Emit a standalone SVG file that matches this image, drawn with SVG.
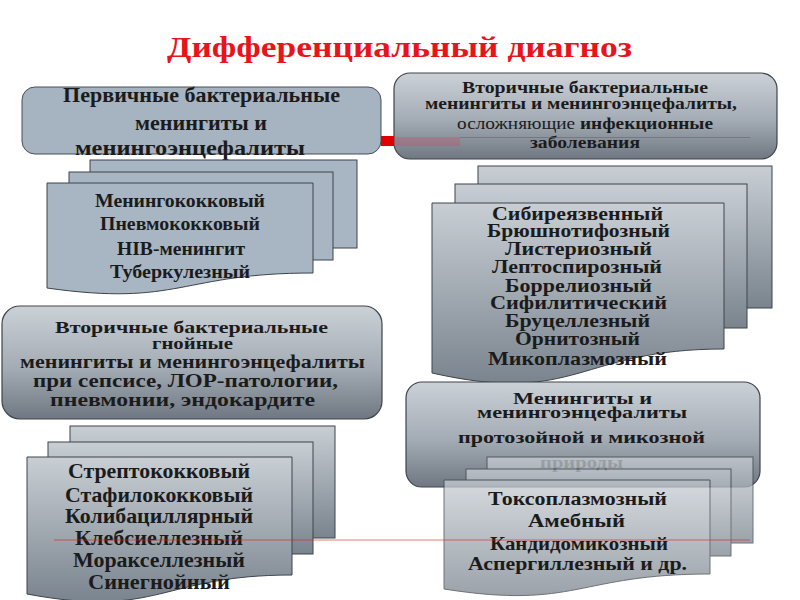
<svg xmlns="http://www.w3.org/2000/svg" width="800" height="600" viewBox="0 0 800 600">
<defs>
<linearGradient id="gBox" x1="0" y1="0" x2="0" y2="1">
<stop offset="0" stop-color="#cbd1d7"/>
<stop offset="0.55" stop-color="#a3abb4"/>
<stop offset="1" stop-color="#6f7882"/>
</linearGradient>
<linearGradient id="gDoc" x1="0" y1="0" x2="0" y2="1">
<stop offset="0" stop-color="#c8ced4"/>
<stop offset="1" stop-color="#7a848e"/>
</linearGradient>
<style>
.t{font-family:"Liberation Serif","DejaVu Serif","Times New Roman",serif;font-weight:bold;fill:#1b1b1b}
.flat{fill:#a6b3c1;stroke:#4a4f55;stroke-width:1}
.grad{fill:url(#gBox);stroke:#3f444a;stroke-width:1.2}
.doc{fill:url(#gDoc);stroke:#3f444a;stroke-width:1}
.dflat{fill:#a8b5c3;stroke:#3f444a;stroke-width:1}
</style>
</defs>
<rect width="800" height="600" fill="#ffffff"/>
<text id="title" x="167" y="57" textLength="465" lengthAdjust="spacingAndGlyphs" style="font-family:'Liberation Serif','DejaVu Serif','Times New Roman',serif;font-weight:bold;font-size:30px;fill:#e8141b">Дифференциальный диагноз</text>

<g id="primary">
<rect class="flat" x="22" y="87" width="359" height="67" rx="13"/>
<text class="t" font-size="21" x="63" y="102" textLength="277" lengthAdjust="spacingAndGlyphs">Первичные бактериальные</text>
<text class="t" font-size="21" x="135" y="130" textLength="132" lengthAdjust="spacingAndGlyphs">менингиты и</text>
<text class="t" font-size="21" x="75" y="155" textLength="230" lengthAdjust="spacingAndGlyphs">менингоэнцефалиты</text>
</g>

<g id="primary-list">
<rect class="dflat" x="90" y="160" width="267" height="88"/>
<rect class="dflat" x="69" y="172" width="264" height="88"/>
<path class="dflat" fill="#a4b1bf" d="M47,183 H313 V273 C180,273 180,307 47,288 Z"/>
<text class="t" font-size="18" x="95" y="207" textLength="170" lengthAdjust="spacingAndGlyphs">Менингококковый</text>
<text class="t" font-size="18" x="100" y="230" textLength="160" lengthAdjust="spacingAndGlyphs">Пневмококковый</text>
<text class="t" font-size="18" x="117" y="255" textLength="128" lengthAdjust="spacingAndGlyphs">HIB-менингит</text>
<text class="t" font-size="18" x="110" y="278" textLength="140" lengthAdjust="spacingAndGlyphs">Туберкулезный</text>
</g>

<g id="secondary-complicating">
<rect class="grad" x="394" y="73" width="383" height="86" rx="16"/>
<text class="t" font-size="16" x="462" y="93" textLength="246" lengthAdjust="spacingAndGlyphs">Вторичные бактериальные</text>
<text class="t" font-size="16" x="425" y="109" textLength="312" lengthAdjust="spacingAndGlyphs">менингиты и менингоэнцефалиты,</text>
<text class="t" font-size="16" x="457" y="129" textLength="256" lengthAdjust="spacingAndGlyphs"><tspan font-weight="normal">осложняющие</tspan> инфекционные</text>
<text class="t" font-size="16" x="530" y="148" textLength="110" lengthAdjust="spacingAndGlyphs">заболевания</text>
</g>

<g id="secondary-list">
<rect class="doc" x="478" y="166" width="294" height="142"/>
<rect class="doc" x="455" y="184" width="292" height="144"/>
<path class="doc" d="M432,203 H724 V349 C578,349 578,406 432,373 Z"/>
<text class="t" font-size="19" x="492" y="220" textLength="171" lengthAdjust="spacingAndGlyphs">Сибиреязвенный</text>
<text class="t" font-size="19" x="487" y="237" textLength="183" lengthAdjust="spacingAndGlyphs">Брюшнотифозный</text>
<text class="t" font-size="19" x="505" y="255" textLength="147" lengthAdjust="spacingAndGlyphs">Листериозный</text>
<text class="t" font-size="19" x="492" y="273" textLength="170" lengthAdjust="spacingAndGlyphs">Лептоспирозный</text>
<text class="t" font-size="19" x="505" y="292" textLength="147" lengthAdjust="spacingAndGlyphs">Боррелиозный</text>
<text class="t" font-size="19" x="490" y="309" textLength="177" lengthAdjust="spacingAndGlyphs">Сифилитический</text>
<text class="t" font-size="19" x="505" y="327" textLength="145" lengthAdjust="spacingAndGlyphs">Бруцеллезный</text>
<text class="t" font-size="19" x="515" y="345" textLength="125" lengthAdjust="spacingAndGlyphs">Орнитозный</text>
<text class="t" font-size="19" x="488" y="365" textLength="179" lengthAdjust="spacingAndGlyphs">Микоплазмозный</text>
</g>

<g id="secondary-purulent">
<rect class="grad" x="2" y="306" width="380" height="113" rx="18"/>
<text class="t" font-size="17" x="55" y="333" textLength="273" lengthAdjust="spacingAndGlyphs">Вторичные бактериальные</text>
<text class="t" font-size="17" x="152" y="349" textLength="81" lengthAdjust="spacingAndGlyphs">гнойные</text>
<text class="t" font-size="18" x="20" y="368" textLength="345" lengthAdjust="spacingAndGlyphs">менингиты и менингоэнцефалиты</text>
<text class="t" font-size="18" x="33" y="387" textLength="305" lengthAdjust="spacingAndGlyphs">при сепсисе, ЛОР-патологии,</text>
<text class="t" font-size="18" x="50" y="406" textLength="265" lengthAdjust="spacingAndGlyphs">пневмонии, эндокардите</text>
</g>

<g id="purulent-list">
<rect class="doc" x="70" y="426" width="265" height="112"/>
<rect class="doc" x="48" y="442" width="265" height="112"/>
<path class="doc" d="M27,457 H292 V575 C160,575 160,619 27,594 Z"/>
<text class="t" font-size="20" x="68" y="478" textLength="182" lengthAdjust="spacingAndGlyphs">Стрептококковый</text>
<text class="t" font-size="20" x="65" y="502" textLength="188" lengthAdjust="spacingAndGlyphs">Стафилококковый</text>
<text class="t" font-size="20" x="65" y="523" textLength="188" lengthAdjust="spacingAndGlyphs">Колибациллярный</text>
<text class="t" font-size="20" x="75" y="545" textLength="168" lengthAdjust="spacingAndGlyphs">Клебсиеллезный</text>
<text class="t" font-size="20" x="73" y="567" textLength="172" lengthAdjust="spacingAndGlyphs">Моракселлезный</text>
<text class="t" font-size="20" x="88" y="589" textLength="142" lengthAdjust="spacingAndGlyphs">Синегнойный</text>
</g>

<g id="protozoal">
<rect class="grad" x="406" y="382" width="354" height="105" rx="16"/>
<text class="t" font-size="16" x="513" y="404" textLength="139" lengthAdjust="spacingAndGlyphs">Менингиты и</text>
<text class="t" font-size="16" x="477" y="418" textLength="210" lengthAdjust="spacingAndGlyphs">менингоэнцефалиты</text>
<text class="t" font-size="17" x="458" y="443" textLength="247" lengthAdjust="spacingAndGlyphs">протозойной и микозной</text>
<text class="t" font-size="17" x="540" y="468" textLength="83" lengthAdjust="spacingAndGlyphs">природы</text>
</g>

<g id="protozoal-list">
<g opacity="0.75">
<rect class="doc" x="487" y="457" width="266" height="86"/>
<rect class="doc" x="466" y="469" width="265" height="87"/>
<path class="doc" d="M444,480 H710 V574 C577,574 577,610 444,589 Z"/>
</g>
<text class="t" font-size="18" x="488" y="505" textLength="179" lengthAdjust="spacingAndGlyphs">Токсоплазмозный</text>
<text class="t" font-size="18" x="528" y="527" textLength="97" lengthAdjust="spacingAndGlyphs">Амебный</text>
<text class="t" font-size="18" x="490" y="550" textLength="178" lengthAdjust="spacingAndGlyphs">Кандидомикозный</text>
<text class="t" font-size="18" x="468" y="570" textLength="219" lengthAdjust="spacingAndGlyphs">Аспергиллезный и др.</text>
</g>

<g id="connectors">
<rect x="381" y="136" width="13" height="10" fill="#e00000"/>
<rect x="394" y="137" width="66" height="9" fill="#c0506a" opacity="0.35"/>
<line x1="460" y1="137.5" x2="750" y2="137.5" stroke="#6e6470" stroke-width="1" opacity="0.6"/>
<line x1="54" y1="540" x2="750" y2="540" stroke="#e02020" stroke-width="1" opacity="0.6"/>
</g>
</svg>
